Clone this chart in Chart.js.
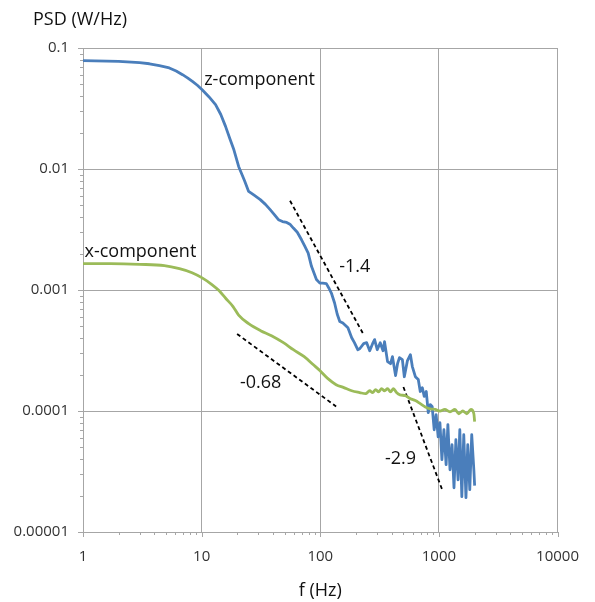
<!DOCTYPE html>
<html>
<head>
<meta charset="utf-8">
<script src="https://cdn.jsdelivr.net/npm/chart.js@4.4.1/dist/chart.umd.min.js"></script>
<style>
  body { margin: 0; background: #fff; }
  canvas { display: block; }
</style>
</head>
<body>
<canvas id="chart" width="595" height="602"></canvas>
<script>
// z-component (blue)
var zFreq = [1, 2, 3, 3.63, 4.4, 5.34, 6.1, 6.9, 7.6, 8.36,
  9.2, 10.1, 11.5, 13.1, 14.5, 15.9, 17.3, 18.7, 20.5, 23,
  24.9, 27.5, 31.2, 34.5, 37.8, 41, 44.4, 48, 52.1, 55.5,
  59.3, 64, 69.5, 74, 79.1, 84.3, 92.8, 99.2, 105, 112.5,
  118, 124, 132, 139, 146, 155, 171, 184, 194, 207,
  215, 232, 246, 261, 276, 287, 302, 320, 338, 348,
  369, 391, 406, 431, 448, 465, 492, 511, 543, 575,
  597, 633, 670, 696, 724, 752, 782, 813, 845, 877,
  912, 948, 985, 1020, 1060, 1102, 1150, 1190, 1240, 1290,
  1340, 1390, 1450, 1500, 1560, 1620, 1690, 1750, 1820, 1890,
  1970, 2000];
var zPsd = [0.0785, 0.0775, 0.0756, 0.0741, 0.0715, 0.0684, 0.0645, 0.0602, 0.0567, 0.053,
  0.0492, 0.0452, 0.0396, 0.034, 0.0282, 0.0225, 0.0178, 0.0144, 0.0105, 0.008,
  0.00653, 0.0061, 0.00558, 0.0051, 0.00461, 0.0042, 0.00381, 0.00368, 0.00362, 0.0035,
  0.00325, 0.003, 0.0026, 0.0023, 0.00202, 0.00157, 0.00122, 0.00114, 0.00114, 0.00113,
  0.00104, 0.000944, 0.000781, 0.00063, 0.00055, 0.000533, 0.000487, 0.000403, 0.000367, 0.000321,
  0.000327, 0.00036, 0.000367, 0.000315, 0.00036, 0.000389, 0.000321, 0.000367, 0.000315, 0.000374,
  0.000256, 0.000246, 0.000281, 0.000196, 0.000246, 0.000276, 0.000266, 0.000192, 0.000261, 0.000292,
  0.000233, 0.000192, 0.000182, 0.000145, 0.000156, 0.000132, 0.000145, 0.0000968, 0.000113, 0.000109,
  0.00007, 0.0000931, 0.0000612, 0.00008, 0.0000396, 0.00007, 0.000036, 0.0000771, 0.0000327, 0.0000526,
  0.0000232, 0.0000579, 0.000027, 0.00007, 0.0000196, 0.0000637, 0.0000192, 0.0000526, 0.0000224, 0.0000637,
  0.0000327, 0.0000242];

// x-component (green)
var xFreq = [1, 1.7, 3, 4.85, 6.5, 8.3, 10.1, 12.2, 14, 16,
  18.4, 20.5, 24.9, 31.4, 38.8, 48.9, 59.3, 73.2, 87, 99.6,
  116, 136, 158, 184, 215, 241, 261, 276, 293, 310,
  329, 348, 369, 391, 414, 439, 470, 522, 575, 633,
  696, 768, 845, 930, 1020, 1120, 1240, 1366, 1470, 1590,
  1720, 1860, 1970, 2000];
var xPsd = [0.00165, 0.00165, 0.00163, 0.00159, 0.0015, 0.00139, 0.00126, 0.00111, 0.00099, 0.00085,
  0.00073, 0.00062, 0.000527, 0.000461, 0.000419, 0.000367, 0.000321, 0.000281, 0.000242, 0.000215,
  0.000185, 0.000165, 0.000156, 0.000147, 0.000142, 0.000139, 0.000147, 0.000142, 0.00015, 0.000144,
  0.000153, 0.000147, 0.000153, 0.000144, 0.000153, 0.000142, 0.000136, 0.000134, 0.000126, 0.000122,
  0.000115, 0.000108, 0.000104, 0.000103, 0.0001, 0.000103, 0.0000986, 0.000103, 0.0000949, 0.0001,
  0.0000949, 0.000103, 0.0000949, 0.0000817];

// dashed slope guides
var slopeLabels = ['-1.4', '-0.68', '-2.9'];
var slopeFreq = [[55.6, 228], [19.9, 136], [502, 1078]];
var slopePsd = [[0.00547, 0.000441], [0.000433, 0.000109], [0.000158, 0.0000217]];
var slopeTextFreq = [195, 31.4, 474];
var slopeTextPsd = [0.00156, 0.000171, 0.0000404];

var seriesNames = ['z-component', 'x-component'];
var seriesTextFreq = [10.5, 1.03];
var seriesTextPsd = [0.0547, 0.00208];

var xTickLabels = ['1', '10', '100', '1000', '10000'];
var yTickLabels = ['0.00001', '0.0001', '0.001', '0.01', '0.1'];

var gridGrey = '#a6a6a6';

function pts(fs, ps) {
  var out = [];
  for (var i = 0; i < fs.length; i++) out.push({x: fs[i], y: ps[i]});
  return out;
}

function decade(v) {
  var l = Math.log10(v);
  return Math.abs(l - Math.round(l)) < 1e-6;
}

// drop the 1.5 / 15 / 150 ticks Chart.js adds
function keepWhole(scale) {
  scale.ticks = scale.ticks.filter(function(t) {
    var m = t.value / Math.pow(10, Math.floor(Math.log10(t.value) + 1e-9));
    return Math.abs(m - Math.round(m)) < 1e-6;
  });
}

var datasets = [
  {data: pts(xFreq, xPsd), borderColor: '#9bbb59', borderWidth: 2.8, cubicInterpolationMode: 'monotone'},
  {data: pts(zFreq, zPsd), borderColor: '#4a7ebb', borderWidth: 2.8, tension: 0}
];
for (var i = 0; i < slopeFreq.length; i++) {
  datasets.push({data: pts(slopeFreq[i], slopePsd[i]), borderColor: '#000',
    borderWidth: 1.8, borderDash: [4, 3]});
}
datasets.forEach(function(d) {
  d.showLine = true;
  d.pointRadius = 0;
  d.borderJoinStyle = 'round';
  d.fill = false;
});

// tick marks on the outside of both axes, minor ones shorter
var minorTicks = {
  id: 'minorTicks',
  afterDraw: function(chart) {
    var ctx = chart.ctx, xs = chart.scales.x, ys = chart.scales.y, a = chart.chartArea;
    ctx.save();
    ctx.strokeStyle = gridGrey;
    ctx.lineWidth = 1;
    ctx.beginPath();
    xs.ticks.forEach(function(t) {
      var p = Math.round(xs.getPixelForValue(t.value)) + 0.5;
      var len = decade(t.value) ? 5 : 3;
      ctx.moveTo(p, a.bottom);
      ctx.lineTo(p, a.bottom + len);
    });
    ys.ticks.forEach(function(t) {
      var p = Math.round(ys.getPixelForValue(t.value)) + 0.5;
      var len = decade(t.value) ? 5 : 3;
      ctx.moveTo(a.left, p);
      ctx.lineTo(a.left - len, p);
    });
    ctx.stroke();
    ctx.restore();
  }
};

var notes = {
  id: 'notes',
  afterDatasetsDraw: function(chart) {
    var ctx = chart.ctx, xs = chart.scales.x, ys = chart.scales.y, a = chart.chartArea;
    ctx.save();
    ctx.fillStyle = '#111';
    ctx.font = '18px "Open Sans"';
    ctx.textBaseline = 'middle';
    ctx.textAlign = 'left';
    ctx.fillText('PSD (W/Hz)', a.left - 50, a.top - 28);
    for (var i = 0; i < seriesNames.length; i++) {
      ctx.fillText(seriesNames[i], xs.getPixelForValue(seriesTextFreq[i]), ys.getPixelForValue(seriesTextPsd[i]));
    }
    ctx.textAlign = 'center';
    for (var j = 0; j < slopeLabels.length; j++) {
      ctx.fillText(slopeLabels[j], xs.getPixelForValue(slopeTextFreq[j]), ys.getPixelForValue(slopeTextPsd[j]));
    }
    ctx.restore();
  }
};

new Chart(document.getElementById('chart'), {
  type: 'scatter',
  data: {datasets: datasets},
  plugins: [notes, minorTicks],
  options: {
    responsive: false,
    animation: false,
    layout: {padding: {left: 0, right: 34, top: 48, bottom: 0}},
    plugins: {legend: {display: false}, tooltip: {enabled: false}},
    scales: {
      x: {
        type: 'logarithmic',
        min: 1,
        max: 10000,
        afterBuildTicks: keepWhole,
        afterFit: function(s) { s.height = 70; },
        border: {color: gridGrey, width: 1},
        grid: {
          color: function(c) { return c.tick && decade(c.tick.value) ? gridGrey : 'rgba(0,0,0,0)'; },
          drawTicks: false
        },
        ticks: {
          autoSkip: false,
          maxRotation: 0,
          padding: 16,
          color: '#333',
          font: {family: 'Open Sans', size: 15},
          callback: function(v) { return decade(v) ? xTickLabels[Math.round(Math.log10(v))] : ''; }
        },
        title: {
          display: true,
          text: 'f (Hz)',
          color: '#111',
          font: {family: 'Open Sans', size: 18},
          padding: {top: 0, bottom: 0}
        }
      },
      y: {
        type: 'logarithmic',
        min: 0.00001,
        max: 0.1,
        afterBuildTicks: keepWhole,
        afterFit: function(s) { s.width = 83; },
        border: {color: gridGrey, width: 1},
        grid: {
          color: function(c) { return c.tick && decade(c.tick.value) ? gridGrey : 'rgba(0,0,0,0)'; },
          drawTicks: false
        },
        ticks: {
          autoSkip: false,
          padding: 14,
          color: '#333',
          font: {family: 'Open Sans', size: 15},
          callback: function(v) { return decade(v) ? yTickLabels[Math.round(Math.log10(v)) + 5] : ''; }
        }
      }
    }
  }
});
</script>
</body>
</html>
